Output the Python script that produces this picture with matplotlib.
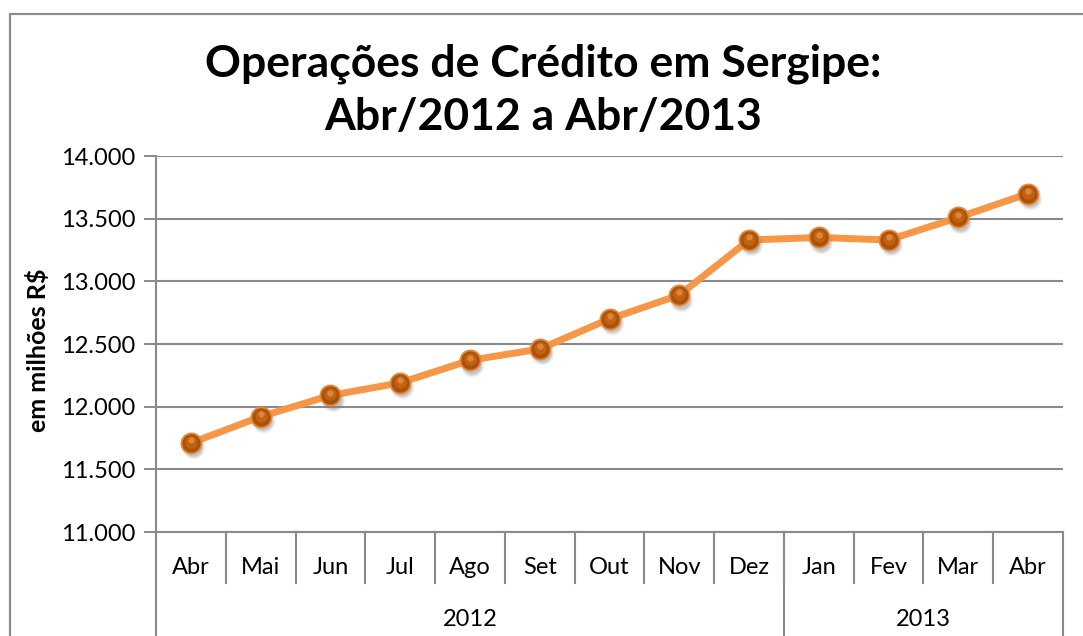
import matplotlib
matplotlib.use("Agg")
import matplotlib.pyplot as plt
from matplotlib.patches import Rectangle
from matplotlib.ticker import FuncFormatter

months = ["Abr", "Mai", "Jun", "Jul", "Ago", "Set", "Out", "Nov", "Dez",
          "Jan", "Fev", "Mar", "Abr"]
values = [11710, 11920, 12090, 12190, 12370, 12460, 12700, 12890, 13330,
          13350, 13330, 13510, 13700]
years = ["2012", "2013"]
year_counts = [9, 4]
yticks = [11000, 11500, 12000, 12500, 13000, 13500, 14000]

plt.rcParams['font.family'] = ['Lato', 'DejaVu Sans']

W, H = 1083, 636
fig = plt.figure(figsize=(W / 100, H / 100), dpi=100)
fig.patch.set_facecolor('white')

# outer chart border
fig.patches.append(Rectangle((10 / W, -0.1), 1.2, (H - 14) / H + 0.1,
                             transform=fig.transFigure, fill=False,
                             edgecolor='#8c8c8c', linewidth=1.6))

ax = fig.add_axes([156 / W, 104 / H, 907 / W, 376 / H])
n = len(months)
x = list(range(n))
ax.set_xlim(-0.5, n - 0.5)
ax.set_ylim(yticks[0], yticks[-1])

grid_c = '#8a8a8a'
ax.set_yticks(yticks)
ax.yaxis.set_major_formatter(FuncFormatter(lambda v, p: f"{int(v):,}".replace(",", ".")))
ax.tick_params(axis='y', length=9, width=1.4, color=grid_c, labelsize=17, pad=6,
               labelcolor='black')
ax.grid(axis='y', color=grid_c, linewidth=1.5)
ax.set_axisbelow(True)
for s in ['top', 'right']:
    ax.spines[s].set_visible(False)
ax.spines['left'].set_color(grid_c)
ax.spines['left'].set_linewidth(1.5)
ax.spines['bottom'].set_color(grid_c)
ax.spines['bottom'].set_linewidth(1.5)
ax.set_xticks([])

# line
ax.plot(x, values, color='#F79646', linewidth=5, zorder=3, solid_capstyle='round')
# marker shadow (soft)
for ms, al in [(17, 0.10), (15, 0.18), (13, 0.25)]:
    ax.plot([xi + 0.03 for xi in x], [v - 35 for v in values], linestyle='none',
            marker='o', markersize=ms, markerfacecolor='#808080',
            markeredgecolor='none', alpha=al, zorder=4)
ax.plot(x, values, linestyle='none', marker='o', markersize=14.5,
        markerfacecolor='#A9520B', markeredgecolor='#E8893A', markeredgewidth=1.3,
        zorder=5)
ax.plot([xi for xi in x], [v + 8 for v in values], linestyle='none',
        marker='o', markersize=9, markerfacecolor='#C0620F', markeredgecolor='none',
        zorder=6)
ax.plot([xi for xi in x], [v + 22 for v in values], linestyle='none',
        marker='o', markersize=4.5, markerfacecolor='#E08A40', markeredgecolor='none',
        alpha=0.9, zorder=7)

# category axis: month labels and separators
tr = ax.get_xaxis_transform()
month_sep_len = 51 / 376
for i, m in enumerate(months):
    ax.text(i, -35 / 376, m, transform=tr, ha='center', va='center', fontsize=17)
for i in range(1, n):
    ax.plot([i - 0.5, i - 0.5], [0, -month_sep_len], transform=tr, color=grid_c,
            linewidth=1.5, clip_on=False)
# year labels and separators
start = 0
bounds = [-0.5]
for y, c in zip(years, year_counts):
    ax.text(start + (c - 1) / 2, -87 / 376, y, transform=tr, ha='center',
            va='center', fontsize=17)
    start += c
    bounds.append(start - 0.5)
for b in bounds:
    ax.plot([b, b], [0, -0.5], transform=tr, color=grid_c, linewidth=1.5,
            clip_on=False)

ax.set_ylabel("em milhões R$", fontsize=18, fontweight='bold')
ax.yaxis.set_label_coords((50 - 156) / 907, (532 - 350) / 376)

fig.text((207 + 880) / 2 / W, 1 - 64 / H, "Operações de Crédito em Sergipe:",
         ha='center', va='center', fontsize=32, fontweight='bold')
fig.text((207 + 880) / 2 / W, 1 - 117 / H, "Abr/2012 a Abr/2013",
         ha='center', va='center', fontsize=32, fontweight='bold')

fig.savefig("out.png", dpi=100)
